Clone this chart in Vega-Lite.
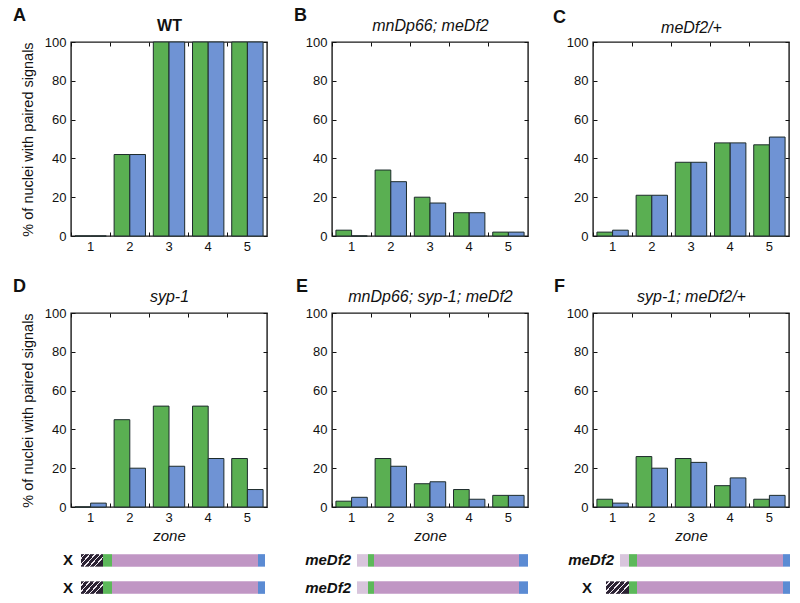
{
  "$schema": "https://vega.github.io/schema/vega-lite/v6.json",
  "padding": {"left": 12, "top": 5, "right": 5, "bottom": 5},
  "datasets": {
    "pairing": [
      {"panel": "A", "zone": 1, "probe": "green", "pct": 0},
      {"panel": "A", "zone": 1, "probe": "blue", "pct": 0},
      {"panel": "A", "zone": 2, "probe": "green", "pct": 42},
      {"panel": "A", "zone": 2, "probe": "blue", "pct": 42},
      {"panel": "A", "zone": 3, "probe": "green", "pct": 100},
      {"panel": "A", "zone": 3, "probe": "blue", "pct": 100},
      {"panel": "A", "zone": 4, "probe": "green", "pct": 100},
      {"panel": "A", "zone": 4, "probe": "blue", "pct": 100},
      {"panel": "A", "zone": 5, "probe": "green", "pct": 100},
      {"panel": "A", "zone": 5, "probe": "blue", "pct": 100},
      {"panel": "B", "zone": 1, "probe": "green", "pct": 3},
      {"panel": "B", "zone": 1, "probe": "blue", "pct": 0},
      {"panel": "B", "zone": 2, "probe": "green", "pct": 34},
      {"panel": "B", "zone": 2, "probe": "blue", "pct": 28},
      {"panel": "B", "zone": 3, "probe": "green", "pct": 20},
      {"panel": "B", "zone": 3, "probe": "blue", "pct": 17},
      {"panel": "B", "zone": 4, "probe": "green", "pct": 12},
      {"panel": "B", "zone": 4, "probe": "blue", "pct": 12},
      {"panel": "B", "zone": 5, "probe": "green", "pct": 2},
      {"panel": "B", "zone": 5, "probe": "blue", "pct": 2},
      {"panel": "C", "zone": 1, "probe": "green", "pct": 2},
      {"panel": "C", "zone": 1, "probe": "blue", "pct": 3},
      {"panel": "C", "zone": 2, "probe": "green", "pct": 21},
      {"panel": "C", "zone": 2, "probe": "blue", "pct": 21},
      {"panel": "C", "zone": 3, "probe": "green", "pct": 38},
      {"panel": "C", "zone": 3, "probe": "blue", "pct": 38},
      {"panel": "C", "zone": 4, "probe": "green", "pct": 48},
      {"panel": "C", "zone": 4, "probe": "blue", "pct": 48},
      {"panel": "C", "zone": 5, "probe": "green", "pct": 47},
      {"panel": "C", "zone": 5, "probe": "blue", "pct": 51},
      {"panel": "D", "zone": 1, "probe": "green", "pct": 0},
      {"panel": "D", "zone": 1, "probe": "blue", "pct": 2},
      {"panel": "D", "zone": 2, "probe": "green", "pct": 45},
      {"panel": "D", "zone": 2, "probe": "blue", "pct": 20},
      {"panel": "D", "zone": 3, "probe": "green", "pct": 52},
      {"panel": "D", "zone": 3, "probe": "blue", "pct": 21},
      {"panel": "D", "zone": 4, "probe": "green", "pct": 52},
      {"panel": "D", "zone": 4, "probe": "blue", "pct": 25},
      {"panel": "D", "zone": 5, "probe": "green", "pct": 25},
      {"panel": "D", "zone": 5, "probe": "blue", "pct": 9},
      {"panel": "E", "zone": 1, "probe": "green", "pct": 3},
      {"panel": "E", "zone": 1, "probe": "blue", "pct": 5},
      {"panel": "E", "zone": 2, "probe": "green", "pct": 25},
      {"panel": "E", "zone": 2, "probe": "blue", "pct": 21},
      {"panel": "E", "zone": 3, "probe": "green", "pct": 12},
      {"panel": "E", "zone": 3, "probe": "blue", "pct": 13},
      {"panel": "E", "zone": 4, "probe": "green", "pct": 9},
      {"panel": "E", "zone": 4, "probe": "blue", "pct": 4},
      {"panel": "E", "zone": 5, "probe": "green", "pct": 6},
      {"panel": "E", "zone": 5, "probe": "blue", "pct": 6},
      {"panel": "F", "zone": 1, "probe": "green", "pct": 4},
      {"panel": "F", "zone": 1, "probe": "blue", "pct": 2},
      {"panel": "F", "zone": 2, "probe": "green", "pct": 26},
      {"panel": "F", "zone": 2, "probe": "blue", "pct": 20},
      {"panel": "F", "zone": 3, "probe": "green", "pct": 25},
      {"panel": "F", "zone": 3, "probe": "blue", "pct": 23},
      {"panel": "F", "zone": 4, "probe": "green", "pct": 11},
      {"panel": "F", "zone": 4, "probe": "blue", "pct": 15},
      {"panel": "F", "zone": 5, "probe": "green", "pct": 4},
      {"panel": "F", "zone": 5, "probe": "blue", "pct": 6}
    ],
    "segments": [
      {"panel": "D", "row": "r1", "part": "hatched", "start": 10, "end": 32},
      {"panel": "D", "row": "r1", "part": "greenProbe", "start": 32, "end": 41},
      {"panel": "D", "row": "r1", "part": "arm", "start": 41, "end": 187},
      {"panel": "D", "row": "r1", "part": "blueProbe", "start": 187, "end": 194},
      {"panel": "D", "row": "r2", "part": "hatched", "start": 10, "end": 32},
      {"panel": "D", "row": "r2", "part": "greenProbe", "start": 32, "end": 41},
      {"panel": "D", "row": "r2", "part": "arm", "start": 41, "end": 187},
      {"panel": "D", "row": "r2", "part": "blueProbe", "start": 187, "end": 194},
      {"panel": "E", "row": "r1", "part": "deleted", "start": 25, "end": 36},
      {"panel": "E", "row": "r1", "part": "greenProbe", "start": 36, "end": 42},
      {"panel": "E", "row": "r1", "part": "arm", "start": 42, "end": 187},
      {"panel": "E", "row": "r1", "part": "blueProbe", "start": 187, "end": 196},
      {"panel": "E", "row": "r2", "part": "deleted", "start": 25, "end": 36},
      {"panel": "E", "row": "r2", "part": "greenProbe", "start": 36, "end": 42},
      {"panel": "E", "row": "r2", "part": "arm", "start": 42, "end": 187},
      {"panel": "E", "row": "r2", "part": "blueProbe", "start": 187, "end": 196},
      {"panel": "F", "row": "r1", "part": "deleted", "start": 27, "end": 36},
      {"panel": "F", "row": "r1", "part": "greenProbe", "start": 36, "end": 44},
      {"panel": "F", "row": "r1", "part": "arm", "start": 44, "end": 190},
      {"panel": "F", "row": "r1", "part": "blueProbe", "start": 190, "end": 197},
      {"panel": "F", "row": "r2", "part": "hatched", "start": 13, "end": 36},
      {"panel": "F", "row": "r2", "part": "greenProbe", "start": 36, "end": 44},
      {"panel": "F", "row": "r2", "part": "arm", "start": 44, "end": 190},
      {"panel": "F", "row": "r2", "part": "blueProbe", "start": 190, "end": 197}
    ],
    "chromLabels": [
      {"panel": "D", "row": "r1", "label": "X", "start": 10},
      {"panel": "D", "row": "r2", "label": "X", "start": 10},
      {"panel": "E", "row": "r1", "label": "meDf2", "start": 25},
      {"panel": "E", "row": "r2", "label": "meDf2", "start": 25},
      {"panel": "F", "row": "r1", "label": "meDf2", "start": 27},
      {"panel": "F", "row": "r2", "label": "X", "start": 13}
    ]
  },
  "vconcat": [
    {
      "hconcat": [
        {
          "data": {"name": "pairing"},
          "transform": [{"filter": "datum.panel == 'A'"}],
          "title": {"text": "A", "dx": -58, "dy": 11},
          "width": 196,
          "height": 194,
          "layer": [
            {
              "mark": {"type": "bar", "stroke": "#1d2b2b", "strokeWidth": 1},
              "encoding": {
                "x": {"field": "zone", "type": "ordinal", "scale": {"paddingInner": 0.2, "paddingOuter": 0.1},
                      "axis": {"orient": "bottom", "labelAngle": 0, "tickSize": -4, "bandPosition": -0.125, "labelPadding": 8, "title": null}},
                "xOffset": {"field": "probe", "type": "nominal", "sort": ["green", "blue"]},
                "y": {"field": "pct", "type": "quantitative", "scale": {"domain": [0, 100], "nice": false},
                      "axis": {"values": [0, 20, 40, 60, 80, 100], "tickSize": -4, "labelPadding": 9, "title": "% of nuclei with paired signals", "titleFontSize": 14.5, "titlePadding": 9, "titleFontWeight": "normal"}},
                "color": {"field": "probe", "type": "nominal", "scale": {"domain": ["green", "blue"], "range": ["#5aaf52", "#6f93d4"]}, "legend": null}
              }
            },
            {
              "mark": {"type": "tick", "opacity": 0},
              "encoding": {
                "x": {"field": "zone", "type": "ordinal", "axis": {"orient": "top", "labels": false, "tickSize": -4, "bandPosition": -0.125, "title": "WT", "titleFontSize": 16, "titleFontWeight": "bold", "titlePadding": 8}},
                "y": {"field": "pct", "type": "quantitative", "axis": {"orient": "right", "labels": false, "values": [0, 20, 40, 60, 80, 100], "tickSize": -4, "title": null}}
              }
            }
          ],
          "resolve": {"axis": {"x": "independent", "y": "independent"}}
        },
        {
          "data": {"name": "pairing"},
          "transform": [{"filter": "datum.panel == 'B'"}],
          "title": {"text": "B", "dx": -38, "dy": 11},
          "width": 196,
          "height": 194,
          "layer": [
            {
              "mark": {"type": "bar", "stroke": "#1d2b2b", "strokeWidth": 1},
              "encoding": {
                "x": {"field": "zone", "type": "ordinal", "scale": {"paddingInner": 0.2, "paddingOuter": 0.1},
                      "axis": {"orient": "bottom", "labelAngle": 0, "tickSize": -4, "bandPosition": -0.125, "labelPadding": 8, "title": null}},
                "xOffset": {"field": "probe", "type": "nominal", "sort": ["green", "blue"]},
                "y": {"field": "pct", "type": "quantitative", "scale": {"domain": [0, 100], "nice": false},
                      "axis": {"values": [0, 20, 40, 60, 80, 100], "tickSize": -4, "labelPadding": 9, "title": null}},
                "color": {"field": "probe", "type": "nominal", "scale": {"domain": ["green", "blue"], "range": ["#5aaf52", "#6f93d4"]}, "legend": null}
              }
            },
            {
              "mark": {"type": "tick", "opacity": 0},
              "encoding": {
                "x": {"field": "zone", "type": "ordinal", "axis": {"orient": "top", "labels": false, "tickSize": -4, "bandPosition": -0.125, "title": "mnDp66; meDf2", "titleFontSize": 16, "titleFontWeight": "normal", "titleFontStyle": "italic", "titlePadding": 8}},
                "y": {"field": "pct", "type": "quantitative", "axis": {"orient": "right", "labels": false, "values": [0, 20, 40, 60, 80, 100], "tickSize": -4, "title": null}}
              }
            }
          ],
          "resolve": {"axis": {"x": "independent", "y": "independent"}}
        },
        {
          "data": {"name": "pairing"},
          "transform": [{"filter": "datum.panel == 'C'"}],
          "title": {"text": "C", "dx": -40, "dy": 11},
          "width": 196,
          "height": 194,
          "layer": [
            {
              "mark": {"type": "bar", "stroke": "#1d2b2b", "strokeWidth": 1},
              "encoding": {
                "x": {"field": "zone", "type": "ordinal", "scale": {"paddingInner": 0.2, "paddingOuter": 0.1},
                      "axis": {"orient": "bottom", "labelAngle": 0, "tickSize": -4, "bandPosition": -0.125, "labelPadding": 8, "title": null}},
                "xOffset": {"field": "probe", "type": "nominal", "sort": ["green", "blue"]},
                "y": {"field": "pct", "type": "quantitative", "scale": {"domain": [0, 100], "nice": false},
                      "axis": {"values": [0, 20, 40, 60, 80, 100], "tickSize": -4, "labelPadding": 9, "title": null}},
                "color": {"field": "probe", "type": "nominal", "scale": {"domain": ["green", "blue"], "range": ["#5aaf52", "#6f93d4"]}, "legend": null}
              }
            },
            {
              "mark": {"type": "tick", "opacity": 0},
              "encoding": {
                "x": {"field": "zone", "type": "ordinal", "axis": {"orient": "top", "labels": false, "tickSize": -4, "bandPosition": -0.125, "title": "meDf2/+", "titleFontSize": 16, "titleFontWeight": "normal", "titleFontStyle": "italic", "titlePadding": 6}},
                "y": {"field": "pct", "type": "quantitative", "axis": {"orient": "right", "labels": false, "values": [0, 20, 40, 60, 80, 100], "tickSize": -4, "title": null}}
              }
            }
          ],
          "resolve": {"axis": {"x": "independent", "y": "independent"}}
        }
      ],
      "spacing": 65,
      "bounds": "flush"
    },
    {
      "vconcat": [
        {
          "hconcat": [
            {
              "data": {"name": "pairing"},
              "transform": [{"filter": "datum.panel == 'D'"}],
              "title": {"text": "D", "dx": -58, "dy": 11},
              "width": 196,
              "height": 194,
              "layer": [
                {
                  "mark": {"type": "bar", "stroke": "#1d2b2b", "strokeWidth": 1},
                  "encoding": {
                    "x": {"field": "zone", "type": "ordinal", "scale": {"paddingInner": 0.2, "paddingOuter": 0.1},
                          "axis": {"orient": "bottom", "labelAngle": 0, "tickSize": -4, "bandPosition": -0.125, "labelPadding": 8, "title": "zone", "titleFontSize": 15, "titleFontStyle": "italic", "titleFontWeight": "normal", "titlePadding": 4}},
                    "xOffset": {"field": "probe", "type": "nominal", "sort": ["green", "blue"]},
                    "y": {"field": "pct", "type": "quantitative", "scale": {"domain": [0, 100], "nice": false},
                          "axis": {"values": [0, 20, 40, 60, 80, 100], "tickSize": -4, "labelPadding": 9, "title": "% of nuclei with paired signals", "titleFontSize": 14.5, "titlePadding": 9, "titleFontWeight": "normal"}},
                    "color": {"field": "probe", "type": "nominal", "scale": {"domain": ["green", "blue"], "range": ["#5aaf52", "#6f93d4"]}, "legend": null}
                  }
                },
                {
                  "mark": {"type": "tick", "opacity": 0},
                  "encoding": {
                    "x": {"field": "zone", "type": "ordinal", "axis": {"orient": "top", "labels": false, "tickSize": -4, "bandPosition": -0.125, "title": "syp-1", "titleFontSize": 16, "titleFontWeight": "normal", "titleFontStyle": "italic", "titlePadding": 8}},
                    "y": {"field": "pct", "type": "quantitative", "axis": {"orient": "right", "labels": false, "values": [0, 20, 40, 60, 80, 100], "tickSize": -4, "title": null}}
                  }
                }
              ],
              "resolve": {"axis": {"x": "independent", "y": "independent"}}
            },
            {
              "data": {"name": "pairing"},
              "transform": [{"filter": "datum.panel == 'E'"}],
              "title": {"text": "E", "dx": -36, "dy": 11},
              "width": 196,
              "height": 194,
              "layer": [
                {
                  "mark": {"type": "bar", "stroke": "#1d2b2b", "strokeWidth": 1},
                  "encoding": {
                    "x": {"field": "zone", "type": "ordinal", "scale": {"paddingInner": 0.2, "paddingOuter": 0.1},
                          "axis": {"orient": "bottom", "labelAngle": 0, "tickSize": -4, "bandPosition": -0.125, "labelPadding": 8, "title": "zone", "titleFontSize": 15, "titleFontStyle": "italic", "titleFontWeight": "normal", "titlePadding": 4}},
                    "xOffset": {"field": "probe", "type": "nominal", "sort": ["green", "blue"]},
                    "y": {"field": "pct", "type": "quantitative", "scale": {"domain": [0, 100], "nice": false},
                          "axis": {"values": [0, 20, 40, 60, 80, 100], "tickSize": -4, "labelPadding": 9, "title": null}},
                    "color": {"field": "probe", "type": "nominal", "scale": {"domain": ["green", "blue"], "range": ["#5aaf52", "#6f93d4"]}, "legend": null}
                  }
                },
                {
                  "mark": {"type": "tick", "opacity": 0},
                  "encoding": {
                    "x": {"field": "zone", "type": "ordinal", "axis": {"orient": "top", "labels": false, "tickSize": -4, "bandPosition": -0.125, "title": "mnDp66; syp-1; meDf2", "titleFontSize": 16, "titleFontWeight": "normal", "titleFontStyle": "italic", "titlePadding": 8}},
                    "y": {"field": "pct", "type": "quantitative", "axis": {"orient": "right", "labels": false, "values": [0, 20, 40, 60, 80, 100], "tickSize": -4, "title": null}}
                  }
                }
              ],
              "resolve": {"axis": {"x": "independent", "y": "independent"}}
            },
            {
              "data": {"name": "pairing"},
              "transform": [{"filter": "datum.panel == 'F'"}],
              "title": {"text": "F", "dx": -39, "dy": 11},
              "width": 196,
              "height": 194,
              "layer": [
                {
                  "mark": {"type": "bar", "stroke": "#1d2b2b", "strokeWidth": 1},
                  "encoding": {
                    "x": {"field": "zone", "type": "ordinal", "scale": {"paddingInner": 0.2, "paddingOuter": 0.1},
                          "axis": {"orient": "bottom", "labelAngle": 0, "tickSize": -4, "bandPosition": -0.125, "labelPadding": 8, "title": "zone", "titleFontSize": 15, "titleFontStyle": "italic", "titleFontWeight": "normal", "titlePadding": 4}},
                    "xOffset": {"field": "probe", "type": "nominal", "sort": ["green", "blue"]},
                    "y": {"field": "pct", "type": "quantitative", "scale": {"domain": [0, 100], "nice": false},
                          "axis": {"values": [0, 20, 40, 60, 80, 100], "tickSize": -4, "labelPadding": 9, "title": null}},
                    "color": {"field": "probe", "type": "nominal", "scale": {"domain": ["green", "blue"], "range": ["#5aaf52", "#6f93d4"]}, "legend": null}
                  }
                },
                {
                  "mark": {"type": "tick", "opacity": 0},
                  "encoding": {
                    "x": {"field": "zone", "type": "ordinal", "axis": {"orient": "top", "labels": false, "tickSize": -4, "bandPosition": -0.125, "title": "syp-1; meDf2/+", "titleFontSize": 16, "titleFontWeight": "normal", "titleFontStyle": "italic", "titlePadding": 8}},
                    "y": {"field": "pct", "type": "quantitative", "axis": {"orient": "right", "labels": false, "values": [0, 20, 40, 60, 80, 100], "tickSize": -4, "title": null}}
                  }
                }
              ],
              "resolve": {"axis": {"x": "independent", "y": "independent"}}
            }
          ],
          "spacing": 65,
          "bounds": "flush"
        },
        {
          "hconcat": [
            {
              "width": 196,
              "height": 56,
              "view": {"stroke": null},
              "layer": [
                {
                  "data": {"name": "segments"},
                  "transform": [{"filter": "datum.panel == 'D' && datum.part != 'hatched'"}],
                  "mark": {"type": "bar"},
                  "encoding": {
                    "x": {"field": "start", "type": "quantitative", "scale": {"domain": [0, 196], "nice": false, "zero": false}, "axis": null},
                    "x2": {"field": "end"},
                    "y": {"field": "row", "type": "nominal", "scale": {"domain": ["r1", "r2"], "paddingInner": 0.54, "paddingOuter": 0.3}, "axis": null},
                    "color": {"field": "part", "type": "nominal", "scale": {"domain": ["deleted", "greenProbe", "arm", "blueProbe"], "range": ["#d8c5dc", "#5cb85a", "#c096c4", "#5b8bd3"]}, "legend": null}
                  }
                },
                {
                  "data": {"name": "segments"},
                  "transform": [{"filter": "datum.panel == 'D' && datum.part == 'hatched'"}],
                  "mark": {"type": "bar", "color": {"gradient": "linear", "x1": 0, "y1": 0, "x2": 1, "y2": 0.5, "stops": [
                    {"offset": 0, "color": "#2b2233"}, {"offset": 0.11, "color": "#2b2233"}, {"offset": 0.11, "color": "#efe8f0"}, {"offset": 0.16, "color": "#efe8f0"},
                    {"offset": 0.16, "color": "#2b2233"}, {"offset": 0.30, "color": "#2b2233"}, {"offset": 0.30, "color": "#efe8f0"}, {"offset": 0.35, "color": "#efe8f0"},
                    {"offset": 0.35, "color": "#2b2233"}, {"offset": 0.49, "color": "#2b2233"}, {"offset": 0.49, "color": "#efe8f0"}, {"offset": 0.54, "color": "#efe8f0"},
                    {"offset": 0.54, "color": "#2b2233"}, {"offset": 0.68, "color": "#2b2233"}, {"offset": 0.68, "color": "#efe8f0"}, {"offset": 0.73, "color": "#efe8f0"},
                    {"offset": 0.73, "color": "#2b2233"}, {"offset": 0.87, "color": "#2b2233"}, {"offset": 0.87, "color": "#efe8f0"}, {"offset": 0.92, "color": "#efe8f0"},
                    {"offset": 0.92, "color": "#2b2233"}, {"offset": 1, "color": "#2b2233"}]}},
                  "encoding": {
                    "x": {"field": "start", "type": "quantitative"},
                    "x2": {"field": "end"},
                    "y": {"field": "row", "type": "nominal"}
                  }
                },
                {
                  "data": {"name": "chromLabels"},
                  "transform": [{"filter": "datum.panel == 'D' && datum.label == 'X'"}],
                  "mark": {"type": "text", "align": "right", "baseline": "middle", "dx": -8, "fontSize": 15, "fontWeight": "bold", "color": "#111"},
                  "encoding": {
                    "x": {"field": "start", "type": "quantitative"},
                    "y": {"field": "row", "type": "nominal"},
                    "text": {"field": "label"}
                  }
                }
              ]
            },
            {
              "width": 196,
              "height": 56,
              "view": {"stroke": null},
              "layer": [
                {
                  "data": {"name": "segments"},
                  "transform": [{"filter": "datum.panel == 'E'"}],
                  "mark": {"type": "bar"},
                  "encoding": {
                    "x": {"field": "start", "type": "quantitative", "scale": {"domain": [0, 196], "nice": false, "zero": false}, "axis": null},
                    "x2": {"field": "end"},
                    "y": {"field": "row", "type": "nominal", "scale": {"domain": ["r1", "r2"], "paddingInner": 0.54, "paddingOuter": 0.3}, "axis": null},
                    "color": {"field": "part", "type": "nominal", "scale": {"domain": ["deleted", "greenProbe", "arm", "blueProbe"], "range": ["#d8c5dc", "#5cb85a", "#c096c4", "#5b8bd3"]}, "legend": null}
                  }
                },
                {
                  "data": {"name": "chromLabels"},
                  "transform": [{"filter": "datum.panel == 'E'"}],
                  "mark": {"type": "text", "align": "right", "baseline": "middle", "dx": -6, "fontSize": 15, "fontWeight": "bold", "fontStyle": "italic", "color": "#111"},
                  "encoding": {
                    "x": {"field": "start", "type": "quantitative"},
                    "y": {"field": "row", "type": "nominal"},
                    "text": {"field": "label"}
                  }
                }
              ]
            },
            {
              "width": 196,
              "height": 56,
              "view": {"stroke": null},
              "layer": [
                {
                  "data": {"name": "segments"},
                  "transform": [{"filter": "datum.panel == 'F' && datum.part != 'hatched'"}],
                  "mark": {"type": "bar"},
                  "encoding": {
                    "x": {"field": "start", "type": "quantitative", "scale": {"domain": [0, 196], "nice": false, "zero": false}, "axis": null},
                    "x2": {"field": "end"},
                    "y": {"field": "row", "type": "nominal", "scale": {"domain": ["r1", "r2"], "paddingInner": 0.54, "paddingOuter": 0.3}, "axis": null},
                    "color": {"field": "part", "type": "nominal", "scale": {"domain": ["deleted", "greenProbe", "arm", "blueProbe"], "range": ["#d8c5dc", "#5cb85a", "#c096c4", "#5b8bd3"]}, "legend": null}
                  }
                },
                {
                  "data": {"name": "segments"},
                  "transform": [{"filter": "datum.panel == 'F' && datum.part == 'hatched'"}],
                  "mark": {"type": "bar", "color": {"gradient": "linear", "x1": 0, "y1": 0, "x2": 1, "y2": 0.5, "stops": [
                    {"offset": 0, "color": "#2b2233"}, {"offset": 0.11, "color": "#2b2233"}, {"offset": 0.11, "color": "#efe8f0"}, {"offset": 0.16, "color": "#efe8f0"},
                    {"offset": 0.16, "color": "#2b2233"}, {"offset": 0.30, "color": "#2b2233"}, {"offset": 0.30, "color": "#efe8f0"}, {"offset": 0.35, "color": "#efe8f0"},
                    {"offset": 0.35, "color": "#2b2233"}, {"offset": 0.49, "color": "#2b2233"}, {"offset": 0.49, "color": "#efe8f0"}, {"offset": 0.54, "color": "#efe8f0"},
                    {"offset": 0.54, "color": "#2b2233"}, {"offset": 0.68, "color": "#2b2233"}, {"offset": 0.68, "color": "#efe8f0"}, {"offset": 0.73, "color": "#efe8f0"},
                    {"offset": 0.73, "color": "#2b2233"}, {"offset": 0.87, "color": "#2b2233"}, {"offset": 0.87, "color": "#efe8f0"}, {"offset": 0.92, "color": "#efe8f0"},
                    {"offset": 0.92, "color": "#2b2233"}, {"offset": 1, "color": "#2b2233"}]}},
                  "encoding": {
                    "x": {"field": "start", "type": "quantitative"},
                    "x2": {"field": "end"},
                    "y": {"field": "row", "type": "nominal"}
                  }
                },
                {
                  "data": {"name": "chromLabels"},
                  "transform": [{"filter": "datum.panel == 'F' && datum.label == 'X'"}],
                  "mark": {"type": "text", "align": "right", "baseline": "middle", "dx": -14, "fontSize": 15, "fontWeight": "bold", "color": "#111"},
                  "encoding": {
                    "x": {"field": "start", "type": "quantitative"},
                    "y": {"field": "row", "type": "nominal"},
                    "text": {"field": "label"}
                  }
                },
                {
                  "data": {"name": "chromLabels"},
                  "transform": [{"filter": "datum.panel == 'F' && datum.label != 'X'"}],
                  "mark": {"type": "text", "align": "right", "baseline": "middle", "dx": -6, "fontSize": 15, "fontWeight": "bold", "fontStyle": "italic", "color": "#111"},
                  "encoding": {
                    "x": {"field": "start", "type": "quantitative"},
                    "y": {"field": "row", "type": "nominal"},
                    "text": {"field": "label"}
                  }
                }
              ]
            }
          ],
          "spacing": 65,
          "bounds": "flush"
        }
      ],
      "spacing": 2,
      "resolve": {"scale": {"color": "independent"}}
    }
  ],
  "spacing": 22,
  "resolve": {"scale": {"color": "independent"}},
  "config": {
    "font": "Liberation Sans",
    "view": {"stroke": "#1a1a1a", "strokeWidth": 1.4},
    "axis": {"labelFontSize": 13, "labelColor": "#111", "tickColor": "#111", "tickWidth": 1, "titleColor": "#111", "domain": false, "grid": false},
    "title": {"fontSize": 18, "fontWeight": "bold", "anchor": "start", "frame": "group", "color": "#111"}
  }
}
